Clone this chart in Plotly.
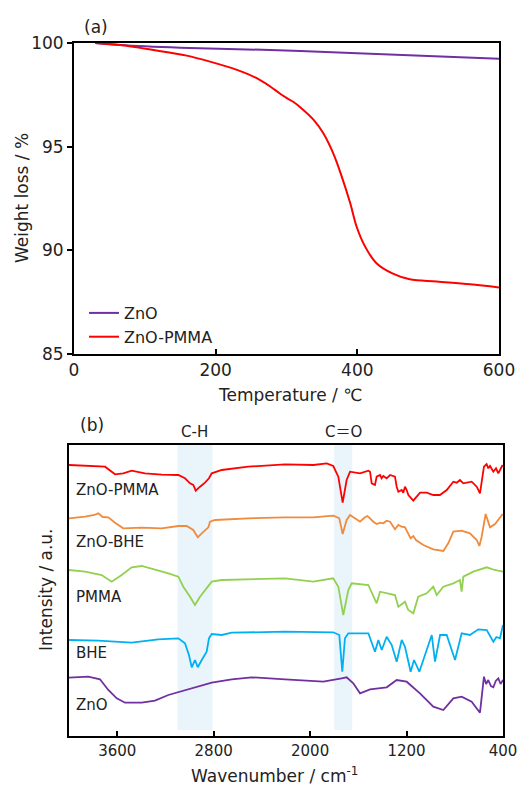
import plotly.graph_objects as go

# ---------- (a) TGA data ----------
tga_temp_zno = [30, 65, 150, 277, 400, 600]
tga_w_zno = [100.0, 99.9, 99.77, 99.66, 99.5, 99.24]

tga_temp_pmma = [30, 65, 112, 159, 192, 230, 258, 277, 291, 300, 310, 321, 338, 352, 366, 378, 390, 399, 411, 427, 451, 474, 512, 559, 600]
tga_w_pmma = [100.0, 99.9, 99.66, 99.39, 99.1, 98.7, 98.3, 97.9, 97.55, 97.35, 97.15, 96.85, 96.3, 95.64, 94.67, 93.55, 92.26, 91.13, 90.17, 89.37, 88.85, 88.59, 88.48, 88.35, 88.2]

# ---------- (b) FT-IR data (offset, arbitrary units) ----------
wn_zno_pmma = [4000, 3701, 3618, 3550, 3480, 3370, 3231, 3093, 3038, 2996, 2969, 2949, 2913, 2872, 2839, 2816, 2733, 2513, 2208,
               1973, 1862, 1808, 1766, 1730, 1697, 1669, 1586, 1517, 1503, 1489, 1462, 1448, 1420, 1407, 1393, 1365, 1337, 1296,
               1282, 1268, 1241, 1227, 1213, 1199, 1185, 1158, 1144, 1116, 1088, 1033, 978, 923, 867, 812, 784, 757, 729, 660,
               618, 591, 577, 558, 536, 522, 508, 480, 458, 439, 425, 403]
int_zno_pmma = [271, 269.3, 261.7, 262.7, 265.3, 262.7, 261.3, 261, 257.7, 252.7, 251, 245.3, 249.3, 253.3, 257.7, 262.7, 266, 269.3, 271.7,
                271, 272.7, 270, 259.3, 233.3, 256, 264.3, 262.7, 265.3, 264.3, 252.7, 251, 259.3, 261, 257.7, 260, 257.7, 261, 259.3,
                249.3, 244.3, 246, 243.3, 249.3, 246, 241, 237.7, 235.3, 239.3, 243.3, 243.3, 241, 241, 246, 254.3, 253.3, 256, 252.7, 254.3,
                249.3, 242.7, 256, 269.3, 272, 267.7, 270, 264.3, 267.7, 262.7, 266, 271]

wn_zno_bhe = [4000, 3867, 3790, 3757, 3720, 3674, 3618, 3550, 3397, 3231, 3093, 3024, 2969, 2932, 2899, 2872, 2844, 2830, 2789, 2513, 2208,
              1973, 1807, 1758, 1730, 1697, 1669, 1628, 1586, 1545, 1525, 1503, 1476, 1448, 1420, 1393, 1365, 1337, 1310, 1296, 1268,
              1241, 1213, 1185, 1166, 1144, 1122, 1061, 978, 895, 854, 812, 743, 674, 618, 596, 577, 544, 508, 466, 403]
int_zno_bhe = [217.7, 219.3, 221, 222.7, 219, 218.7, 213.3, 207.7, 208.3, 207.7, 210, 210, 206, 198.7, 202.7, 205.3, 208.7, 214.3, 216, 217.7, 218.7,
               218.7, 220.3, 217.7, 202, 216, 221, 217.7, 214.3, 218.7, 220, 217.7, 214.3, 212, 213.3, 212.7, 215.3, 214.3, 210, 206.7, 211,
               209.3, 208.7, 202.7, 197.7, 200, 196, 191, 186.7, 185, 192.7, 204.3, 205.3, 202.7, 196, 190, 199.3, 222, 208.7, 212, 222]

wn_pmma = [4000, 3867, 3729, 3646, 3563, 3480, 3397, 3287, 3176, 3093, 3052, 2996, 2955, 2913, 2872, 2844, 2816, 2733, 2208,
           1973, 1808, 1766, 1725, 1683, 1655, 1517, 1476, 1448, 1420, 1365, 1296, 1268, 1213, 1186, 1144, 1103, 1033, 978, 950,
           895, 812, 757, 743, 729, 646, 535, 470, 400]
int_pmma = [166, 164.3, 161, 154.3, 161, 168.7, 170, 166.7, 162.7, 159.3, 149.3, 139.3, 131, 139.3, 146, 149.3, 154.3, 156, 157.7,
            154.3, 157.7, 149.3, 121, 146, 152.7, 151, 139.3, 132.7, 144.3, 142.7, 141, 129.3, 134.3, 126, 122.7, 139.3, 142.7, 149.3, 141,
            149.3, 152.7, 156, 144.3, 159.3, 164.3, 168.7, 166, 164.3]

wn_bhe = [4000, 3757, 3480, 3259, 3093, 3038, 3005, 2982, 2955, 2932, 2899, 2858, 2839, 2816, 2733, 2650, 2208,
          1808, 1758, 1733, 1711, 1683, 1517, 1462, 1434, 1406, 1365, 1323, 1282, 1240, 1213, 1166, 1138, 1094, 1061,
          991, 964, 922, 867, 798, 743, 674, 605, 535, 480, 455, 425, 400]
int_bhe = [96, 95.3, 93.3, 96.7, 97.7, 92.7, 81, 68.7, 76, 68.7, 76, 84.3, 97.7, 102, 101, 103.3, 104.3,
           103.7, 101, 64.3, 97.7, 102.7, 102.7, 84.3, 96, 86, 99.3, 91, 74.3, 96, 89.3, 64.3, 76, 64.3, 76,
           101, 74.3, 101, 101, 76, 102.7, 101, 106.7, 106, 94.3, 99, 97.7, 111]

wn_zno = [4000, 3840, 3743, 3674, 3604, 3535, 3397, 3287, 3176, 3038, 2927, 2816, 2650, 2485, 2208, 2084, 1891, 1738, 1697,
          1642, 1586, 1503, 1365, 1282, 1199, 1089, 978, 895, 812, 743, 660, 591, 558, 540, 522, 500, 480, 460, 439, 420, 400]
int_zno = [58.3, 59.3, 56.7, 46, 37.7, 33.3, 33.3, 35.3, 41, 46, 50, 53.3, 56.7, 58.7, 56.7, 56, 54.3, 57.7, 58.7,
           52.7, 42.7, 46.7, 48.7, 56, 54.3, 42.7, 29.3, 26, 37.7, 39.3, 34.3, 23.3, 59.3, 52, 56, 50, 48.7, 55, 57.7, 52, 56]

spectra_names = ["ZnO-PMMA", "ZnO-BHE", "PMMA", "BHE", "ZnO"]
spectra_colors = ["#FF0000", "#F08A3C", "#92D050", "#00B0F0", "#7030A0"]
label_y = [246, 194, 139, 83, 31]

bands = [(3100, 2810), (1800, 1650)]
band_labels = ["C-H", "C\uFF1DO"]
band_label_x = [2955, 1725]

FONT = "DejaVu Sans, Noto Sans CJK JP, sans-serif"
W, H = 518, 785

fig = go.Figure()

fig.add_trace(go.Scatter(x=tga_temp_zno, y=tga_w_zno, mode="lines", name="ZnO",
                         line=dict(color="#7030A0", width=2, shape="spline"), xaxis="x", yaxis="y"))
fig.add_trace(go.Scatter(x=tga_temp_pmma, y=tga_w_pmma, mode="lines", name="ZnO-PMMA",
                         line=dict(color="#FF0000", width=2, shape="spline"), xaxis="x", yaxis="y"))

spectra = [(wn_zno_pmma, int_zno_pmma), (wn_zno_bhe, int_zno_bhe), (wn_pmma, int_pmma), (wn_bhe, int_bhe), (wn_zno, int_zno)]
for (wx, wy), nm, col in zip(spectra, spectra_names, spectra_colors):
    fig.add_trace(go.Scatter(x=wx, y=wy, mode="lines", name=nm, showlegend=False,
                             line=dict(color=col, width=1.8), xaxis="x2", yaxis="y2"))

shapes = []
for (a, b) in bands:
    shapes.append(dict(type="rect", xref="x2", yref="y2", x0=a, x1=b, y0=6, y1=291,
                       fillcolor="#EAF4FB", line=dict(width=0), layer="below"))

annotations = []
for nm, yy in zip(spectra_names, label_y):
    annotations.append(dict(x=3960, y=yy, xref="x2", yref="y2", text=nm, showarrow=False,
                            xanchor="left", yanchor="middle", font=dict(size=15, color="#222", family=FONT)))
for t, xx in zip(band_labels, band_label_x):
    annotations.append(dict(x=xx, y=1 - 432 / H, xref="x2", yref="paper", text=t, showarrow=False,
                            xanchor="center", yanchor="middle", font=dict(size=15, color="#222", family=FONT)))
annotations += [
    dict(x=96 / W, y=1 - 27 / H, xref="paper", yref="paper", text="(a)", showarrow=False,
         xanchor="center", yanchor="middle", font=dict(size=17, color="#222", family=FONT)),
    dict(x=92 / W, y=1 - 425 / H, xref="paper", yref="paper", text="(b)", showarrow=False,
         xanchor="center", yanchor="middle", font=dict(size=17, color="#222", family=FONT)),
    dict(x=290 / W, y=1 - 395 / H, xref="paper", yref="paper", text="Temperature / \u2103", showarrow=False,
         xanchor="center", yanchor="middle", font=dict(size=17, color="#222", family=FONT)),
    dict(x=22 / W, y=1 - 198 / H, xref="paper", yref="paper", text="Weight loss / %", showarrow=False, textangle=-90,
         xanchor="center", yanchor="middle", font=dict(size=17, color="#222", family=FONT)),
    dict(x=274 / W, y=1 - 775 / H, xref="paper", yref="paper", text="Wavenumber / cm<sup>-1</sup>", showarrow=False,
         xanchor="center", yanchor="middle", font=dict(size=17, color="#222", family=FONT)),
    dict(x=46 / W, y=1 - 590 / H, xref="paper", yref="paper", text="Intensity / a.u.", showarrow=False, textangle=-90,
         xanchor="center", yanchor="middle", font=dict(size=17, color="#222", family=FONT)),
]

axis_common = dict(showline=True, linecolor="black", linewidth=2, mirror=True, showgrid=False, zeroline=False,
                   tickfont=dict(size=17, color="#222", family=FONT), ticklen=5, tickcolor="black", tickwidth=2,
                   automargin=False)

fig.update_layout(
    width=W, height=H, margin=dict(l=0, r=0, t=0, b=0, autoexpand=False),
    plot_bgcolor="white", paper_bgcolor="white",
    font=dict(family=FONT, color="#222"),
    xaxis=dict(domain=[74 / W, 499 / W], range=[0, 600], tickvals=[0, 200, 400, 600], ticks="inside",
               anchor="y", **axis_common),
    yaxis=dict(domain=[1 - 353.7 / H, 1 - 43 / H], range=[85, 100], tickvals=[85, 90, 95, 100], ticks="outside",
               anchor="x", **axis_common),
    xaxis2=dict(domain=[69 / W, 503 / W], range=[4000, 400], tickvals=[3600, 2800, 2000, 1200, 400], ticks="inside",
                anchor="y2", **{**axis_common, "tickfont": dict(size=15, color="#222", family=FONT)}),
    yaxis2=dict(domain=[1 - 736 / H, 1 - 445 / H], range=[0, 291], showticklabels=False, ticks="",
                anchor="x2", **{k: v for k, v in axis_common.items() if k not in ("tickfont",)}),
    legend=dict(x=84 / W, y=1 - 296 / H, xanchor="left", yanchor="top", bgcolor="rgba(0,0,0,0)",
                font=dict(size=16, color="#222", family=FONT), tracegroupgap=0),
    shapes=shapes, annotations=annotations,
)

fig.write_html("out.html", config={"displayModeBar": False},
               post_script="document.body.style.margin='0';document.body.style.padding='0';"
                           "document.documentElement.style.overflow='hidden';")
